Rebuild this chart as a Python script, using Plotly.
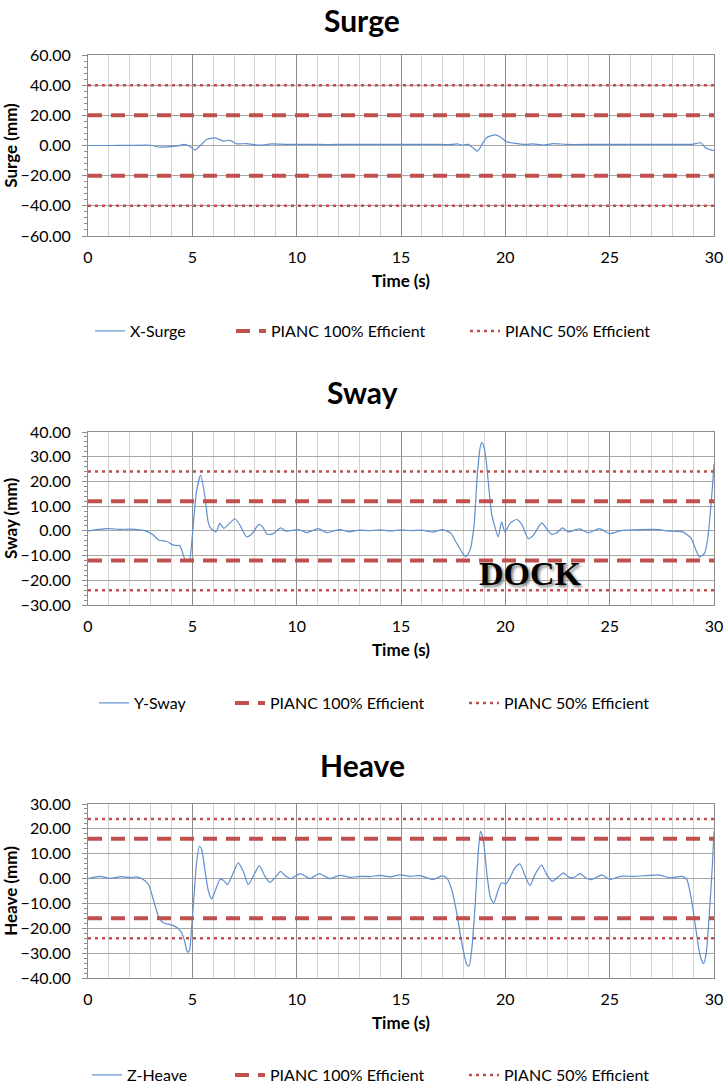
import plotly.graph_objects as go

# ---------------- data ----------------
time_ticks = [0, 5, 10, 15, 20, 25, 30]

surge_t = [0, 1, 2, 2.8, 3.1, 3.45, 4.0, 4.3, 4.6, 4.87, 5.13, 5.37, 5.69, 6.09, 6.5, 6.8,
           7.12, 7.6, 8.24, 8.8, 9.5, 10.5, 11.5, 12.5, 13.5, 14.5, 15.5, 16.5, 17.2, 17.5,
           17.74, 17.9, 18.22, 18.5, 18.67, 18.86, 19.1, 19.5, 19.74, 20.06, 20.38, 21.0,
           21.34, 21.82, 22.3, 22.9, 24, 25, 26, 27, 28, 28.96, 29.37, 29.6, 30]
surge_v = [0, 0, 0.1, 0.2, 0, -1.1, -0.7, -0.3, 0.7, -0.5, -3.1, -0.2, 4.0, 5.0, 2.9, 3.4,
           1.1, 1.3, 0.2, 1.1, 0.7, 0.8, 0.6, 0.8, 0.7, 0.8, 0.7, 0.8, 0.6, 0.8,
           1.0, 0.3, 0.7, -2.2, -3.8, 0.2, 5.2, 7.0, 5.8, 2.5, 1.6, 0.7,
           1.1, 0.2, 1.3, 0.7, 0.7, 0.8, 0.7, 0.8, 0.7, 0.8, 1.8, -1.6, -3.4]

sway_t = [0, 0.5, 1.0, 1.5, 2.0, 2.5, 2.75, 3.1, 3.4, 3.75, 4.1, 4.4, 4.65, 4.85, 5.0, 5.2,
          5.4, 5.6, 5.75, 5.85, 6.13, 6.32, 6.51, 7.04, 7.28, 7.6, 7.84, 8.19, 8.37, 8.59,
          8.88, 9.23, 9.49, 10.08, 10.48, 11.04, 11.44, 12.08, 12.48, 13.0, 13.5, 14.0,
          14.5, 15.0, 15.5, 16.0, 16.5, 17.0, 17.4, 17.6, 17.95, 18.1, 18.3, 18.5, 18.65,
          18.8, 18.88, 19.0, 19.1, 19.34, 19.5, 19.66, 19.82, 19.98, 20.22, 20.54, 20.78,
          21.1, 21.34, 21.74, 21.98, 22.22, 22.46, 22.74, 23.0, 23.56, 23.96, 24.52, 25.0,
          25.5, 26.45, 27.4, 27.7, 28.5, 28.9, 29.1, 29.3, 29.55, 29.7, 29.9, 30.0]
sway_v = [0, 0.6, 0.9, 0.6, 0.7, 0.4, 0, -1.5, -3.8, -4.2, -5.8, -6.0, -11.5, -12.0, -2, 16,
          22.6, 14, 4, 1.4, -0.4, 3.0, 1.0, 4.9, 2.3, -2.4, -1.4, 2.6, 1.6, -1.4,
          -1.1, 1.2, -0.1, 0.5, -0.7, 0.9, -0.7, 0.5, -0.4, 0.3, 0.1, 0.4,
          0.0, 0.4, 0.1, 0.3, -0.5, 0.5, -1.0, -4.0, -9.0, -10.5, -8.0, 2.0, 22.0,
          34.0, 35.7, 33.0, 27.0, 7.0, 1.6, -2.4, 3.6, -0.4, 3.0, 4.6, 2.7,
          -3.1, -1.8, 3.2, 0.9, -1.4, -0.8, 1.2, -0.4, 0.8, -0.8, 0.9, -1.1,
          0.0, 0.5, 0.5, 0.0, -0.4, -3.0, -7.0, -10.5, -9.0, -3.0, 15.0, 27.0]

heave_t = [0, 0.57, 1.05, 1.6, 2.0, 2.33, 2.65, 2.9, 3.13, 3.37, 3.6, 3.93, 4.25, 4.49, 4.65,
           4.76, 4.86, 4.97, 5.08, 5.2, 5.34, 5.45, 5.6, 5.77, 5.93, 6.09, 6.33, 6.49, 6.68,
           6.89, 7.2, 7.44, 7.68, 7.92, 8.21, 8.48, 8.72, 8.96, 9.23, 9.44, 9.71, 10.16,
           10.64, 11.09, 11.57, 12.08, 12.56, 13.04, 13.5, 14.0, 14.47, 14.95, 15.43, 15.91,
           16.55, 16.95, 17.19, 17.43, 17.67, 17.91, 18.15, 18.26, 18.39, 18.55, 18.7, 18.81,
           18.94, 19.13, 19.29, 19.45, 19.61, 19.82, 20.03, 20.22, 20.46, 20.7, 20.94, 21.18,
           21.42, 21.74, 21.98, 22.26, 22.54, 22.78, 23.02, 23.26, 23.58, 23.9, 24.14, 24.62,
           25.02, 25.5, 26.14, 26.78, 27.34, 27.9, 28.46, 28.7, 28.86, 29.02, 29.18, 29.34,
           29.5, 29.63, 29.79, 29.92, 30.0]
heave_v = [0, 0.9, 0.1, 0.8, 0.4, 0.7, -0.4, -2.4, -8.4, -15.0, -17.8, -18.5, -19.6, -21.8, -25.8,
           -29.6, -29.0, -19.0, -7.0, 6.3, 13.0, 11.6, 3.6, -5.0, -8.2, -5.0, -0.4, -0.7, -2.4,
           0.9, 6.3, 2.9, -2.4, 0.9, 5.2, 0.9, -1.5, 0.3, 2.9, 1.2, 0.0, 2.0,
           0.0, 2.0, 0.0, 1.3, 0.5, 0.9, 0.8, 1.3, 0.7, 1.5, 0.9, 1.2,
           -0.4, 1.1, 0.3, -4.4, -13.8, -25.8, -34.5, -35.2, -28.5, -11.0, 10.3, 19.0,
           15.7, 0.9, -7.8, -9.8, -5.8, -1.7, -2.1, 0.3, 4.3, 5.9, 1.2, -2.8,
           1.6, 5.4, 1.6, -1.1, 0.7, 2.3, 0.7, 0.3, 2.0, 0.0, -0.4, 1.5,
           -0.4, 0.9, 0.9, 1.2, 1.5, 0.3, 0.9, -0.4, -5.8, -13.8, -23.2, -31.2,
           -34.2, -29.9, -12.4, 5.0, 19.0]

surge_pianc100 = 20
surge_pianc50 = 40
sway_pianc100 = 12
sway_pianc50 = 24
heave_pianc100 = 16
heave_pianc50 = 24

# ---------------- styling ----------------
FONT = "Lato"
BLUE = "#5E8FCF"
RED = "#C0504D"
W, H = 725, 1087


def py(v):
    """screen y pixel -> paper fraction"""
    return 1 - v / H


def px(v):
    return v / W


charts = [
    dict(title="Surge", name="X-Surge", ytitle="Surge (mm)", t=surge_t, v=surge_v,
         p100=surge_pianc100, p50=surge_pianc50, yr=[-60, 60], dt=20, mdt=4,
         top=55, bot=236, leg_y=331, title_y=16, text_x=[130, 271, 505]),
    dict(title="Sway", name="Y-Sway", ytitle="Sway (mm)", t=sway_t, v=sway_v,
         p100=sway_pianc100, p50=sway_pianc50, yr=[-30, 40], dt=10, mdt=2,
         top=432, bot=605, leg_y=703, title_y=392, text_x=[134, 270, 504]),
    dict(title="Heave", name="Z-Heave", ytitle="Heave (mm)", t=heave_t, v=heave_v,
         p100=heave_pianc100, p50=heave_pianc50, yr=[-40, 30], dt=10, mdt=2,
         top=804, bot=978, leg_y=1075, title_y=765, text_x=[127, 270, 504]),
]

fig = go.Figure()
layout = dict(width=W, height=H, margin=dict(l=0, r=0, t=0, b=0, autoexpand=False),
              paper_bgcolor="white", plot_bgcolor="white", showlegend=True,
              font=dict(family=FONT, size=15, color="#000000"),
              annotations=[])

x0, x1 = px(88), px(714)
LEG_OFF = 40

for i, c in enumerate(charts):
    k = "" if i == 0 else str(i + 1)
    xa, ya = "x" + k, "y" + k
    legs = ["legend" + ("" if 3 * i + j == 0 else str(3 * i + j + 1)) for j in range(3)]
    fig.add_trace(go.Scatter(x=c["t"], y=c["v"], mode="lines", name=c["name"],
                             line=dict(color=BLUE, width=1.2, shape="spline", smoothing=0.6),
                             xaxis=xa, yaxis=ya, legend=legs[0], showlegend=True))
    fig.add_trace(go.Scatter(x=[0, 30, None, 0, 30],
                             y=[c["p100"], c["p100"], None, -c["p100"], -c["p100"]],
                             mode="lines", name="PIANC 100% Efficient",
                             line=dict(color=RED, width=4, dash="14px,9px"),
                             xaxis=xa, yaxis=ya, legend=legs[1], showlegend=True))
    fig.add_trace(go.Scatter(x=[0, 30, None, 0, 30],
                             y=[c["p50"], c["p50"], None, -c["p50"], -c["p50"]],
                             mode="lines", name="PIANC 50% Efficient",
                             line=dict(color=RED, width=2.5, dash="3px,4px"),
                             xaxis=xa, yaxis=ya, legend=legs[2], showlegend=True))

    layout["xaxis" + k] = dict(
        domain=[x0, x1], anchor=ya, range=[0, 30], tickvals=time_ticks, automargin=False,
        showgrid=True, gridcolor="#8C8C8C", gridwidth=1,
        minor=dict(dtick=1, showgrid=True, gridcolor="#D2D2D2", gridwidth=1),
        showline=True, linecolor="#8C8C8C", mirror=True, zeroline=False,
        ticks="", ticklabelstandoff=7, tickfont=dict(size=16),
        title=dict(text="<b>Time (s)</b>", font=dict(size=17), standoff=9))
    layout["yaxis" + k] = dict(
        domain=[py(c["bot"]), py(c["top"])], anchor=xa, range=c["yr"], dtick=c["dt"],
        tickformat=".2f", automargin=False,
        showgrid=True, gridcolor="#A6A6A6", gridwidth=1,
        showline=True, linecolor="#8C8C8C", mirror=True, zeroline=False,
        ticks="outside", ticklen=5, tickcolor="#8C8C8C",
        minor=dict(dtick=c["mdt"], ticks="outside", ticklen=3, tickcolor="#8C8C8C", showgrid=False),
        ticklabelstandoff=8, tickfont=dict(size=16),
        title=dict(text="<b>" + c["ytitle"] + "</b>", font=dict(size=17), standoff=12))
    for j in range(3):
        layout[legs[j]] = dict(orientation="h", xanchor="left", x=px(c["text_x"][j] - LEG_OFF),
                               yanchor="middle", y=py(c["leg_y"]), font=dict(size=16),
                               bgcolor="rgba(0,0,0,0)", itemwidth=30, visible=True)
    if i == 0:
        ann_y, ann_anchor = 1.0, "top"
    else:
        ann_y, ann_anchor = py(c["title_y"]), "middle"
    layout["annotations"].append(dict(
        text="<b>" + c["title"] + "</b>", xref="paper", yref="paper", x=px(362),
        y=ann_y, xanchor="center", yanchor=ann_anchor, showarrow=False,
        font=dict(size=30, family=FONT)))

layout["annotations"].append(dict(
    text="<b>DOCK</b>", xref="x2", yref="y2", x=21.2, y=-17.2, showarrow=False,
    xanchor="center", yanchor="middle",
    font=dict(family="Liberation Serif", size=34, color="#000000", shadow="2px 2px 3px #777")))

fig.update_layout(**layout)
fig.write_html("out.html", config={"displayModeBar": False},
               post_script="document.body.style.margin='0px';")
